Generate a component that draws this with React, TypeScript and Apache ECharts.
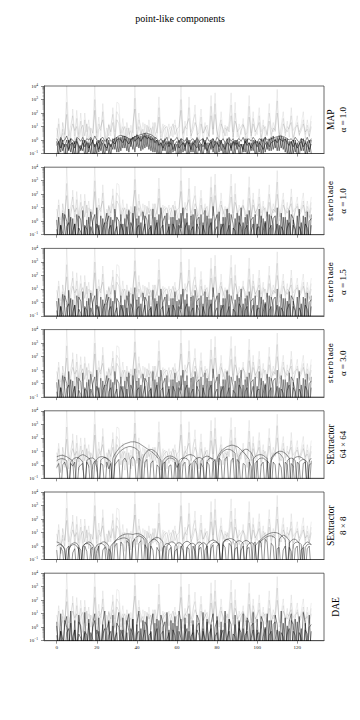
import React, { useEffect, useRef } from "react";
import * as echarts from "echarts";

// All series values are log10 of the plotted quantity (−2 = below the axis floor).
const xTicks = [0, 20, 40, 60, 80, 100, 120];
const yTickExponents = [-1, 0, 1, 2, 3, 4];

const spikeHigh = [
  0.2, 1.6, 0.1, 0.5, -0.2, 4.0, 0.8, 0.0, 2.3, 0.3, 2.2, 0.4, 2.0, 0.2, 2.0, 0.6,
  1.5, 0.0, 0.9, 4.0, 0.5, 1.7, 0.2, 2.7, 0.7, 0.1, 1.2, 0.3, 2.4, 0.6, 2.8, 2.7,
  0.4, 1.6, 0.2, 0.9, 0.0, 1.1, 0.5, 4.0, 0.8, 2.0, 0.3, 1.3, 0.6, 0.2, 1.5, 0.4,
  1.0, 0.3, 0.9, 3.2, 0.5, 1.2, 0.1, 0.6, 1.2, 0.3, 0.8, 1.5, 0.2, 0.7, 4.0, 0.4,
  1.4, 0.3, 3.2, 0.6, 1.0, 2.6, 0.2, 0.9, 2.3, 0.5, 1.3, 0.1, 0.8, 3.3, 0.4, 3.5,
  0.7, 0.2, 2.1, 0.5, 1.1, 0.3, 1.4, 3.5, 0.6, 2.8, 0.2, 1.2, 0.4, 1.6, 0.1, 0.9,
  3.3, 0.5, 2.1, 0.3, 1.0, 2.4, 0.6, 1.5, 0.2, 0.8, 2.7, 0.4, 1.3, 0.6, 3.75, 0.3,
  1.1, 2.1, 0.5, 1.4, 0.2, 2.4, 0.7, 1.0, 1.8, 0.3, 1.2, 2.1, 0.4, 1.5, 0.6, 1.8,
];
const spikeMid = [
  -0.3, 1.2, -0.5, 0.8, 0.0, 2.8, 0.3, 1.1, 1.8, -0.2, 1.6, 0.2, 1.4, -0.4, 1.5, 0.1,
  1.0, 0.5, -0.3, 3.0, 0.2, 1.2, 0.7, 2.1, -0.2, 0.9, 0.3, 1.1, 1.9, 0.0, 2.1, 1.8,
  0.5, 1.0, -0.4, 1.3, 0.4, 0.7, -0.1, 3.1, 0.3, 1.5, 0.9, 0.1, 1.2, 0.5, 1.0, -0.2,
  1.3, 0.6, 0.1, 2.4, 0.2, 0.9, 1.1, -0.3, 0.8, 1.0, 0.2, 1.1, 0.7, -0.2, 3.0, 0.5,
  1.0, 0.8, 2.4, 0.1, 1.4, 1.9, 0.4, 0.5, 1.7, -0.1, 1.0, 0.6, 0.3, 2.5, 0.8, 2.7,
  0.2, 1.0, 1.5, 0.0, 0.9, 0.7, 1.0, 2.6, 0.1, 2.0, 0.6, 0.8, 1.0, 1.2, 0.4, 0.5,
  2.5, 0.1, 1.6, 0.8, 0.4, 1.8, 0.2, 1.1, 0.7, 0.3, 2.0, 0.9, 0.6, 1.2, 2.9, 0.0,
  0.8, 1.6, 0.3, 1.0, 0.8, 1.8, 0.2, 0.7, 1.3, 0.6, 0.9, 1.5, 0.1, 1.1, 0.3, 1.4,
];
const spikeLow = [
  0.9, 0.1, -0.6, 1.3, 0.4, 1.9, -0.3, 0.6, 1.2, 0.7, 1.0, -0.4, 0.8, 1.1, 0.3, 1.2,
  -0.2, 0.9, 0.5, 2.2, -0.5, 0.8, 1.0, 1.5, 0.3, -0.2, 1.1, 0.6, 1.3, -0.1, 1.5, 1.2,
  0.0, 0.7, 1.0, 0.2, 0.9, -0.3, 1.2, 2.3, 0.1, 1.0, 0.4, 0.8, -0.2, 1.1, 0.6, 0.9,
  0.2, 1.3, 0.5, 1.7, -0.4, 0.6, 0.9, 1.0, 0.1, 0.7, 1.2, 0.4, 0.8, 1.0, 2.2, -0.1,
  0.9, 1.2, 1.6, 0.3, 0.7, 1.3, 0.9, -0.3, 1.2, 0.5, 0.8, 1.1, 0.2, 1.8, 0.4, 1.9,
  0.6, 0.0, 1.2, 0.8, 0.3, 1.0, 0.6, 1.8, 0.2, 1.4, 0.9, 0.1, 0.7, 1.1, 0.8, -0.2,
  1.7, 0.3, 1.2, 0.6, 0.9, 1.3, -0.1, 0.8, 1.0, 0.4, 1.4, 0.2, 0.9, 0.7, 2.0, 0.5,
  0.3, 1.2, 0.8, 0.6, 1.0, 1.3, -0.2, 0.9, 1.1, 0.4, 0.7, 1.2, 0.6, 0.8, 0.2, 1.0,
];

const mapA = [
  0.1, -0.2, 0.2, -0.1, 0.0, 0.3, -0.2, 0.1, 0.0, -0.3, 0.2, 0.1, -0.1, 0.2, -0.2, 0.1,
  0.0, 0.2, -0.1, 0.3, 0.0, -0.2, 0.1, 0.2, -0.1, 0.0, 0.2, -0.1, 0.0, 0.1, 0.2, 0.3,
  0.35, 0.3, 0.25, 0.2, 0.1, 0.05, 0.15, 0.25, 0.3, 0.35, 0.4, 0.45, 0.5, 0.5, 0.45, 0.4,
  0.3, 0.2, 0.1, -0.1, 0.1, -0.2, 0.0, 0.2, -0.3, 0.1, -0.1, 0.0, 0.2, -0.2, 0.1, 0.0,
  -0.1, 0.2, -0.3, 0.0, 0.1, -0.2, 0.2, -0.1, 0.0, 0.1, -0.3, 0.2, -0.1, 0.0, 0.1, -0.2,
  0.2, 0.0, -0.1, 0.1, -0.2, 0.0, 0.2, -0.1, 0.1, -0.3, 0.0, 0.1, -0.1, 0.2, -0.2, 0.0,
  0.1, -0.1, 0.2, 0.0, -0.2, 0.1, 0.0, -0.1, 0.2, 0.0, 0.0, 0.1, 0.15, 0.2, 0.25, 0.3,
  0.3, 0.25, 0.2, 0.1, 0.0, 0.1, -0.1, 0.2, 0.0, -0.2, 0.1, 0.0, -0.1, 0.2, -0.2, 0.1,
];
const mapB = [
  -0.4, -0.1, -0.6, -0.2, -0.5, 0.0, -0.7, -0.3, -0.2, -0.6, -0.1, -0.4, -0.8, -0.2, -0.5, -0.1,
  -0.6, -0.3, -0.1, -0.5, -0.2, -0.7, -0.3, 0.0, -0.4, -0.6, -0.2, -0.5, -0.1, -0.3, 0.0, 0.1,
  0.0, -0.2, 0.1, -0.1, -0.3, 0.0, 0.2, -0.1, 0.1, 0.2, -0.1, 0.2, 0.3, 0.1, 0.2, 0.0,
  0.1, -0.2, 0.0, -0.4, -0.2, -0.6, -0.3, -0.1, -0.5, -0.2, -0.7, -0.3, -0.1, -0.6, -0.4, -0.2,
  -0.5, -0.1, -0.3, -0.7, -0.2, -0.4, -0.6, -0.1, -0.3, -0.5, -0.2, -0.8, -0.4, -0.1, -0.6, -0.3,
  -0.2, -0.5, -0.1, -0.4, -0.7, -0.2, -0.3, -0.6, -0.1, -0.4, -0.2, -0.5, -0.3, -0.7, -0.1, -0.4,
  -0.2, -0.6, -0.3, -0.1, -0.5, -0.2, -0.4, -0.7, -0.3, -0.1, -0.5, -0.2, -0.1, 0.0, -0.2, 0.1,
  0.0, -0.1, 0.1, -0.2, -0.4, -0.1, -0.5, -0.2, -0.6, -0.3, -0.1, -0.5, -0.2, -0.4, -0.7, -0.3,
];
const mapC = [
  -1.2, -0.2, -0.9, 0.0, -1.3, -0.3, -0.8, 0.1, -1.1, -0.1, -1.4, -0.4, -0.7, 0.0, -1.2, -0.2,
  -0.9, 0.1, -1.3, -0.3, -1.0, 0.0, -0.8, -0.2, -1.2, 0.1, -1.0, -0.3, -0.7, 0.1, -0.9, 0.2,
  -0.8, 0.3, -0.6, 0.2, -0.9, 0.1, -0.7, 0.3, -0.5, 0.3, -0.8, 0.4, -0.6, 0.4, -0.7, 0.3,
  -0.9, 0.2, -1.1, -0.1, -1.3, 0.0, -0.8, -0.2, -1.2, 0.1, -0.9, -0.3, -1.4, 0.0, -1.0, -0.1,
  -0.8, 0.1, -1.2, -0.2, -0.9, 0.0, -1.3, -0.3, -1.0, 0.1, -0.7, -0.2, -1.1, 0.0, -0.9, -0.1,
  -1.3, 0.0, -0.8, -0.3, -1.1, 0.1, -1.0, -0.2, -1.2, 0.0, -0.7, -0.1, -1.4, -0.3, -0.9, 0.1,
  -1.1, -0.2, -0.8, 0.0, -1.3, -0.1, -1.0, 0.1, -0.9, -0.2, -0.8, 0.2, -0.7, 0.1, -0.8, 0.3,
  -0.6, 0.2, -0.9, 0.1, -1.2, -0.1, -1.0, 0.0, -1.3, -0.2, -0.8, 0.1, -1.1, -0.1, -0.9, 0.0,
];
const mapD = [
  -0.1, -1.1, 0.1, -0.8, -0.3, -1.3, 0.0, -0.9, -0.2, -1.2, 0.1, -1.0, -0.4, -0.8, 0.0, -1.3,
  -0.2, -1.0, 0.0, -1.2, -0.1, -0.9, 0.1, -1.1, -0.3, -0.8, 0.0, -1.2, 0.1, -0.7, 0.2, -0.9,
  0.2, -0.6, 0.3, -0.8, 0.1, -0.5, 0.2, -0.9, 0.4, -0.6, 0.3, -0.7, 0.5, -0.5, 0.4, -0.8,
  0.2, -0.9, 0.0, -1.2, -0.2, -0.8, 0.1, -1.3, -0.1, -1.0, 0.0, -0.8, -0.3, -1.2, 0.1, -0.9,
  -0.2, -1.3, 0.0, -0.9, -0.1, -1.1, 0.1, -0.8, -0.3, -1.2, 0.0, -1.0, -0.2, -0.7, 0.1, -1.3,
  -0.1, -0.9, 0.0, -1.1, -0.2, -1.3, 0.1, -0.8, -0.1, -1.0, 0.0, -1.2, -0.3, -0.9, 0.1, -1.1,
  -0.2, -0.8, 0.0, -1.2, -0.1, -0.9, 0.1, -1.0, 0.2, -0.7, 0.1, -0.8, 0.3, -0.6, 0.2, -0.8,
  0.3, -0.7, 0.1, -1.0, -0.1, -1.2, 0.0, -0.9, -0.2, -1.3, 0.1, -0.8, -0.1, -1.1, 0.0, -1.0,
];

const starA = [
  -2, 0.3, -2, 0.6, -0.4, -2, 0.9, -2, 0.2, -2, 0.5, -0.6, -2, 0.8, -2, 0.1,
  -2, 0.7, -0.3, -2, 1.0, -2, 0.4, -2, -0.2, 0.6, -2, 0.3, -2, 0.9, -0.5, -2,
  0.5, -2, 0.2, -2, 0.8, -2, -0.3, 1.1, -2, 0.4, -2, 0.7, -0.2, -2, 0.5, -2,
  0.9, -2, 0.1, -2, 1.0, -0.4, -2, 0.6, -2, 0.3, -2, 0.8, -2, 0.2, -0.5, 1.0,
  -2, 0.6, -2, 0.4, -2, 0.9, -0.3, -2, 0.5, -2, 0.8, -2, 0.2, -2, 1.1, -0.4,
  -2, 0.7, -2, 0.3, -2, 0.9, -2, 0.5, -0.2, -2, 0.6, -2, 1.0, -2, 0.3, -2,
  0.8, -0.4, -2, 0.5, -2, 0.9, -2, 0.2, -2, 0.7, -2, 0.4, -0.3, -2, 1.0, -2,
  0.6, -2, 0.3, -2, 0.8, -2, 0.1, -0.5, -2, 0.9, -2, 0.4, -2, 0.7, -2, 0.5,
];
const starB = [
  0.1, -2, -0.3, -2, 0.5, 0.0, -2, 0.3, -2, -0.2, -2, 0.4, 0.1, -2, -0.4, -2,
  0.3, -2, 0.0, 0.5, -2, -0.3, -2, 0.2, -2, -0.1, 0.4, -2, 0.1, -2, 0.3, 0.0,
  -2, -0.2, -2, 0.5, -0.3, -2, 0.6, -2, 0.2, -2, -0.1, -2, 0.4, 0.1, -2, -0.3,
  -2, 0.3, -2, 0.5, -2, 0.0, 0.4, -2, -0.2, -2, 0.3, -2, 0.1, -2, 0.6, -2,
  0.2, -2, -0.3, -2, 0.5, -2, 0.1, 0.3, -2, -0.1, -2, 0.4, -2, 0.2, -2, 0.0,
  0.5, -2, -0.2, -2, 0.3, -2, 0.6, -2, -2, 0.2, -2, 0.4, -2, -0.1, -2, 0.5,
  -2, 0.1, 0.3, -2, -0.2, -2, 0.4, -2, 0.0, -2, 0.5, -2, 0.2, 0.4, -2, -0.3,
  -2, 0.3, -2, 0.1, -2, 0.5, 0.2, -2, 0.4, -2, -0.1, -2, 0.3, -2, 0.0, 0.2,
];
const starC = [
  -0.6, -2, -0.3, -0.9, -2, -0.4, -0.1, -2, -0.7, -0.2, -2, -0.5, -0.8, -2, -0.3, -0.6,
  -2, -0.4, -0.9, -2, -0.2, -0.7, -2, -0.5, -0.1, -2, -0.6, -0.3, -2, -0.8, -0.4, -2,
  -0.2, -0.7, -2, -0.4, -2, -0.1, -0.6, -2, -0.5, -0.3, -2, -0.8, -0.2, -2, -0.6, -0.4,
  -2, -0.7, -0.1, -2, -0.5, -0.3, -2, -0.9, -0.4, -2, -0.2, -0.6, -2, -0.3, -0.8, -2,
  -0.5, -0.1, -2, -0.7, -0.4, -2, -0.2, -0.6, -2, -0.3, -0.9, -2, -0.5, -0.1, -2, -0.7,
  -0.4, -2, -0.6, -0.2, -2, -0.8, -0.3, -2, -0.5, -0.7, -2, -0.1, -0.4, -2, -0.6, -0.3,
  -2, -0.8, -0.2, -2, -0.5, -0.4, -2, -0.7, -0.1, -2, -0.6, -0.3, -2, -0.9, -0.2, -2,
  -0.4, -0.7, -2, -0.5, -0.1, -2, -0.3, -0.6, -2, -0.4, -0.8, -2, -0.2, -0.5, -2, -0.3,
];

const sex64A = [
  0.6, 0.65, 0.7, 0.7, 0.65, 0.6, 0.5, 0.4, 0.3, -2, 0.4, 0.6, 0.7, 0.75, 0.7,
  0.6, 0.5, 0.3, -2, 0.2, 0.4, 0.55, 0.6, 0.6, 0.55, 0.45, 0.3, -2, 0.5, 0.8,
  1.0, 1.2, 1.35, 1.45, 1.55, 1.6, 1.65, 1.7, 1.7, 1.7, 1.65, 1.6, 1.5, 1.4, 1.3, 1.2,
  1.1, 1.0, 0.9, 0.75, 0.6, 0.4, -2, 0.3, 0.5, 0.6,
  0.65, 0.65, 0.6, 0.5, 0.4, -2, 0.2, 0.45, 0.6, 0.7, 0.75, 0.75, 0.7, 0.6, 0.45, -2,
  0.3, 0.5, 0.6, 0.65, 0.6, 0.5, 0.3, -2,
  0.5, 0.8, 1.0, 1.15, 1.25, 1.35, 1.4, 1.45, 1.45, 1.4, 1.35, 1.25, 1.1, 0.95, 0.8, 0.6,
  0.4, -2, 0.4, 0.6, 0.7, 0.75,
  0.75, 0.7, 0.6, 0.45, -2, 0.3, 0.6, 0.8, 0.95, 1.0, 1.0, 0.95, 0.85, 0.7, 0.5, -2,
  0.4, 0.55, 0.6, 0.6, 0.55, 0.45, 0.3, -2, 0.3, 0.5,
];
const sex64B = [
  0.3, 0.4, 0.45, 0.45, 0.4, 0.3, -2, 0.2, 0.4, 0.5, 0.55, 0.5, 0.4, 0.2, -2, 0.3,
  0.45, 0.5, 0.5, 0.4, 0.25, -2, 0.35, 0.5, 0.55, 0.5, 0.4, 0.2, -2, 0.4,
  0.7, 0.9, 1.05, 1.15, 1.25, 1.3, 1.35, 1.35, 1.3, 1.25, 1.15, 1.0, -2, 0.5, 0.8, 1.0,
  1.1, 1.15, 1.1, 1.0, 0.85, 0.6, 0.3, -2, 0.2, 0.4,
  0.5, 0.5, 0.45, 0.35, -2, 0.3, 0.45, 0.5, 0.5, 0.45, 0.3, -2, 0.2, 0.4, 0.5, 0.55,
  0.5, 0.4, -2, 0.3, 0.45, 0.5, 0.45, 0.3,
  -2, 0.6, 0.85, 1.0, 1.1, 1.15, 1.15, 1.1, 1.0, 0.85, -2, 0.6, 0.9, 1.05, 1.15, 1.15,
  1.05, 0.9, 0.6, -2, 0.3, 0.45,
  0.5, 0.5, 0.4, 0.25, -2, 0.5, 0.7, 0.85, 0.9, 0.85, 0.7, 0.5, -2, 0.3, 0.45, 0.5,
  0.45, 0.3, -2, 0.2, 0.35, 0.4, 0.35, 0.2, -2, 0.3,
];
const sex64C = [
  -0.2, 0.1, -2, 0.0, 0.2, -0.3, -2, 0.1, -0.1, 0.2, -2, -0.2, 0.0, 0.1, -2, 0.2,
  -0.1, -2, 0.0, 0.3, -0.2, -2, 0.1, 0.0, -2, 0.2, -0.3, 0.1, -2, 0.0,
  0.2, 0.4, -2, 0.3, 0.5, 0.2, -2, 0.4, 0.6, 0.3, -2, 0.5, 0.3, -2, 0.2, 0.4,
  -2, 0.1, 0.3, -2, 0.0, -0.2, -2, 0.1, 0.2, -2, -0.1, 0.0, -2, 0.2, -0.2, 0.1,
  -2, 0.0, 0.2, -2, -0.1, 0.1, -2, 0.3, 0.0, -2, 0.1, -0.2, -2, 0.2, 0.0, -2,
  0.2, 0.4, -2, 0.5, 0.3, -2, 0.4, 0.6, -2, 0.3, 0.5, -2, 0.4, 0.2, -2, 0.1,
  0.0, -2, 0.2, -0.1, -2, 0.1, 0.3, -2, 0.0, 0.2, -2, 0.3, 0.1, -2, 0.2, 0.0,
  -2, 0.1, -0.2, -2, 0.2, 0.0, -2, 0.1, -0.1, -2, 0.2, 0.0, -2, 0.1, 0.2, -2, 0.0, 0.1,
];

const sex8A = [
  0.3, 0.25, 0.15, 0.0, -0.3, -2, -0.2, 0.1, 0.2, 0.25, 0.2, 0.0, -2, -0.1, 0.15, 0.25,
  0.3, 0.25, 0.1, -0.2, -2, 0.0, 0.2, 0.3, 0.3, 0.2, 0.0, -2, 0.1, 0.3, 0.5, 0.65,
  0.75, 0.82, 0.87, 0.9, 0.9, 0.88, 0.85, 0.9, 0.92, 0.9, 0.85, 0.75, 0.6, 0.4, -2, 0.3,
  0.5, 0.6, 0.65, 0.6, 0.5, 0.3, -2, 0.0,
  0.2, 0.3, 0.3, 0.2, 0.0, -2, -0.1, 0.15, 0.3, 0.35, 0.3, 0.15, -2, 0.0, 0.2, 0.3,
  0.25, 0.1, -2, 0.1, 0.3, 0.4, 0.45, 0.4,
  0.3, 0.1, -2, 0.2, 0.4, 0.5, 0.55, 0.55, 0.5, 0.4, 0.2, -2, 0.1, 0.3, 0.4, 0.4,
  0.3, 0.1, -2, 0.0, 0.2, 0.35, 0.5, 0.65,
  0.75, 0.85, 0.92, 0.97, 1.0, 1.0, 0.97, 0.9, 0.8, 0.65, 0.45, -2, 0.2, 0.4, 0.5, 0.5,
  0.4, 0.2, -2, 0.0, 0.2, 0.3, 0.25, 0.1,
];
const sex8B = [
  0.0, 0.1, 0.1, 0.0, -0.2, -2, -0.3, 0.0, 0.1, 0.1, 0.0, -0.3, -2, 0.0, 0.15, 0.2,
  0.15, 0.0, -2, -0.2, 0.05, 0.15, 0.2, 0.15, 0.0, -0.3, -2, 0.0, 0.2, 0.35, 0.45, 0.5,
  0.55, 0.6, 0.6, 0.55, 0.45, -2, 0.3, 0.55, 0.7, 0.75, 0.7, 0.6, 0.4, -2, 0.2, 0.4,
  0.5, 0.5, 0.4, 0.2, -2, -0.1, 0.1, 0.2,
  0.15, 0.0, -2, 0.0, 0.2, 0.25, 0.2, 0.0, -2, -0.1, 0.1, 0.2, 0.2, 0.1, -2, 0.0,
  0.15, 0.25, 0.2, 0.0, -2, 0.1, 0.25, 0.3,
  0.25, 0.1, -2, 0.3, 0.45, 0.5, 0.45, 0.3, -2, 0.2, 0.35, 0.4, 0.35, 0.2, -2, 0.0,
  0.2, 0.25, 0.2, 0.0, -2, 0.2, 0.4, 0.5,
  0.6, 0.7, 0.75, 0.75, 0.7, 0.6, -2, 0.5, 0.7, 0.8, 0.75, 0.6, 0.4, -2, 0.1, 0.25,
  0.3, 0.25, 0.1, -2, -0.1, 0.1, 0.15, 0.1,
];
const sex8C = [
  -0.3, -2, -0.1, -0.4, -2, -0.2, 0.0, -2, -0.5, -0.2, -2, -0.1, -0.3, -2, 0.0, -0.4,
  -2, -0.2, -0.1, -2, -0.4, 0.0, -2, -0.3, -0.1, -2, -0.2, -0.5, -2, 0.0, 0.2, -2,
  0.3, 0.1, -2, 0.4, 0.2, -2, 0.3, 0.5, -2, 0.2, 0.4, -2, 0.1, -0.2, -2, 0.0,
  -0.3, -2, -0.1, -0.4, -2, -0.2, 0.0, -2, -0.3, -0.1, -2, -0.4, -0.2, -2, 0.0, -0.3,
  -2, -0.1, -0.2, -2, 0.0, -0.4, -2, -0.2, -0.1, -2, -0.3, 0.0, -2, -0.2, 0.1, -2,
  0.0, 0.2, -2, 0.1, -0.1, -2, 0.2, 0.0, -2, -0.2, -0.1, -2, -0.3, 0.0, -2, -0.2,
  -0.1, -2, 0.1, 0.3, -2, 0.4, 0.2, -2, 0.5, 0.3, -2, 0.2, 0.0, -2, -0.2, -0.1,
  -2, -0.3, 0.0, -2, -0.1, -0.4, -2, -0.2, 0.0, -2, -0.3, -0.1, -2, -0.2, 0.0, -2,
];

const daeA = [
  0.4, -2, 1.0, -2, 0.2, 0.8, -2, 1.2, -2, 0.5, -2, 0.9, -0.2, -2, 1.1, -2,
  0.6, -2, 0.3, 1.0, -2, 0.7, -2, 0.4, 1.2, -2, 0.5, -2, 0.9, -2, 0.2, 1.1,
  -2, 0.7, -2, 0.4, 1.0, -2, 0.6, -2, 0.3, 1.2, -2, 0.5, -2, 0.8, -2, 0.1,
  1.0, -2, 0.6, -2, 0.9, 0.3, -2, 1.1, -2, 0.5, -2, 0.8, -2, 1.2, 0.4, -2,
  0.7, -2, 1.0, -2, 0.2, -2, 0.9, 0.5, -2, 1.1, -2, 0.6, -2, 0.3, 1.0, -2,
  0.8, -2, 0.4, -2, 1.2, -2, 0.6, 0.2, -2, 0.9, -2, 0.5, -2, 1.0, -2, 0.7,
  0.3, -2, 1.1, -2, 0.6, -2, 0.8, 0.4, -2, 1.0, -2, 0.5, -2, 0.9, 0.2, -2,
  1.2, -2, 0.7, -2, 0.4, 1.0, -2, 0.6, -2, 0.8, -2, 1.1, 0.3, -2, 0.9, -2,
];

const SERIF = "'Liberation Serif', 'DejaVu Serif', serif";
const MONO = "'Liberation Mono', 'DejaVu Sans Mono', monospace";

type Panel = {
  name: string;
  nameFont: string;
  param: string;
  base: { data: number[]; alpha: number }[];
};

const panels: Panel[] = [
  { name: "MAP", nameFont: SERIF, param: "α = 1.0",
    base: [{ data: mapA, alpha: 0.6 }, { data: mapB, alpha: 0.65 }, { data: mapC, alpha: 0.65 }, { data: mapD, alpha: 0.65 }] },
  { name: "starblade", nameFont: MONO, param: "α = 1.0",
    base: [{ data: starA, alpha: 0.6 }, { data: starB, alpha: 0.65 }, { data: starC, alpha: 0.65 }] },
  { name: "starblade", nameFont: MONO, param: "α = 1.5",
    base: [{ data: starA, alpha: 0.55 }, { data: starB, alpha: 0.6 }, { data: starC, alpha: 0.6 }] },
  { name: "starblade", nameFont: MONO, param: "α = 3.0",
    base: [{ data: starA, alpha: 0.5 }, { data: starB, alpha: 0.55 }, { data: starC, alpha: 0.55 }] },
  { name: "SExtractor", nameFont: SERIF, param: "64 × 64",
    base: [{ data: sex64A, alpha: 0.55 }, { data: sex64B, alpha: 0.55 }, { data: sex64C, alpha: 0.55 }] },
  { name: "SExtractor", nameFont: SERIF, param: "8 × 8",
    base: [{ data: sex8A, alpha: 0.55 }, { data: sex8B, alpha: 0.55 }, { data: sex8C, alpha: 0.55 }] },
  { name: "DAE", nameFont: SERIF, param: "",
    base: [{ data: daeA, alpha: 0.6 }, { data: starB, alpha: 0.6 }, { data: starC, alpha: 0.6 }] },
];

const spikes = [
  { data: spikeHigh, alpha: 0.09 },
  { data: spikeMid, alpha: 0.11 },
  { data: spikeLow, alpha: 0.15 },
];

const toPoints = (arr: number[]) => arr.map((v, i) => [i, Math.pow(10, v)]);

export default function App() {
  const ref = useRef<HTMLDivElement>(null);
  useEffect(() => {
    if (!ref.current) return;
    const chart = echarts.init(ref.current, null, { renderer: "svg" });
    const LEFT = 44, WIDTH = 280, TOP0 = 86, STEP = 81.2, HEIGHT = 67.5;
    const axisColor = "#444";
    const grids: any[] = [], xAxes: any[] = [], yAxes: any[] = [], series: any[] = [], graphics: any[] = [];
    graphics.push({
      type: "text", x: 180, y: 18,
      style: { text: "point-like components", fontFamily: SERIF, fontSize: 10, fill: "#000", align: "center", verticalAlign: "middle" },
    });
    panels.forEach((p, i) => {
      const top = TOP0 + i * STEP;
      grids.push({ left: LEFT, top, width: WIDTH, height: HEIGHT, show: true, borderColor: axisColor, borderWidth: 0.8, backgroundColor: "transparent" });
      xAxes.push({
        gridIndex: i, type: "value", min: -6.35, max: 133.35,
        splitLine: { show: false },
        axisLine: { show: true, onZero: false, lineStyle: { color: axisColor, width: 0.8 } },
        axisTick: { show: true, customValues: xTicks, length: 3, lineStyle: { color: axisColor, width: 0.6 } },
        axisLabel: { show: i === panels.length - 1, customValues: xTicks, fontSize: 5, fontFamily: SERIF, color: "#111", margin: 4 },
      });
      yAxes.push({
        gridIndex: i, type: "log", logBase: 10, min: 0.1, max: 10000,
        splitLine: { show: false },
        axisLine: { show: true, onZero: false, lineStyle: { color: axisColor, width: 0.8 } },
        axisTick: { show: true, length: 3, lineStyle: { color: axisColor, width: 0.6 } },
        minorTick: { show: true, splitNumber: 9, length: 1.6, lineStyle: { color: axisColor, width: 0.4 } },
        axisLabel: {
          margin: 6, fontFamily: SERIF, color: "#111",
          formatter: (v: number) => {
            const e = Math.round(Math.log10(v));
            if (!yTickExponents.includes(e)) return "";
            return "{b|10}{s|" + (e < 0 ? "−" + -e : String(e)) + "}";
          },
          rich: {
            b: { fontSize: 5, fontFamily: SERIF, color: "#111" },
            s: { fontSize: 3.6, fontFamily: SERIF, color: "#111", padding: [0, 0, 3, 0] },
          },
        },
      });
      [...spikes, ...p.base].forEach((s) => {
        series.push({
          type: "line", xAxisIndex: i, yAxisIndex: i, data: toPoints(s.data),
          showSymbol: false, symbol: "none", silent: true, clip: true,
          lineStyle: { width: 0.75, color: `rgba(0,0,0,${s.alpha})` },
          emphasis: { disabled: true },
        });
      });
      const cy = top + HEIGHT / 2;
      const hasParam = p.param !== "";
      graphics.push({
        type: "text", x: hasParam ? 330.5 : 336, y: cy, rotation: Math.PI / 2,
        style: { text: p.name, fontFamily: p.nameFont, fontSize: p.nameFont === MONO ? 7.5 : 9.5, fill: "#000", align: "center", verticalAlign: "middle" },
      });
      if (hasParam) {
        graphics.push({
          type: "text", x: 342.5, y: cy, rotation: Math.PI / 2,
          style: { text: p.param, fontFamily: SERIF, fontSize: 9, fill: "#000", align: "center", verticalAlign: "middle" },
        });
      }
    });
    chart.setOption({
      animation: false,
      backgroundColor: "#fff",
      grid: grids, xAxis: xAxes, yAxis: yAxes, series, graphic: graphics,
    });
    return () => chart.dispose();
  }, []);
  return <div ref={ref} style={{ width: 360, height: 720, position: "absolute", left: 0, top: 0 }} />;
}
